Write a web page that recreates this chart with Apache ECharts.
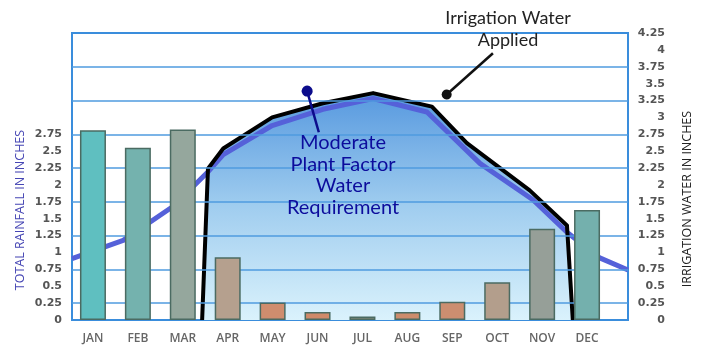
<!DOCTYPE html>
<html>
<head>
<meta charset="utf-8">
<script src="https://cdn.jsdelivr.net/npm/echarts@6/dist/echarts.min.js"></script>
<style>
html, body { margin: 0; padding: 0; background: #ffffff; }
#chart { width: 701px; height: 350px; }
</style>
</head>
<body>
<div id="chart"></div>
<script>
// Monthly rainfall (inches), drawn as bars against the left axis
const months = ['JAN', 'FEB', 'MAR', 'APR', 'MAY', 'JUN', 'JUL', 'AUG', 'SEP', 'OCT', 'NOV', 'DEC'];
const rainfall = [2.81, 2.55, 2.82, 0.93, 0.26, 0.12, 0.05, 0.12, 0.27, 0.56, 1.35, 1.63];
const barColors = ['#5fbfc0', '#74b2ae', '#95a79d', '#b5a08e', '#cf8d6e', '#d08a6a',
                   '#8f8f7a', '#cd8c6c', '#cc8e70', '#b39e8c', '#969f98', '#74b0ad'];

// Moderate plant factor water requirement: month position (JAN = 0) and inches
const requirementPos = [-0.47, 0.67, 1.78, 2.54, 2.90, 3.99, 5.12, 6.24, 7.44, 8.62, 9.80, 10.56, 11.29, 11.92];
const requirementVal = [0.91, 1.18, 1.68, 2.18, 2.45, 2.88, 3.12, 3.28, 3.08, 2.32, 1.78, 1.30, 0.92, 0.74];

// Irrigation water applied: month position and inches
const appliedPos = [2.43, 2.56, 2.90, 3.99, 5.12, 6.24, 7.55, 8.33, 9.73, 10.56, 10.69];
const appliedVal = [0, 2.24, 2.54, 3.00, 3.21, 3.36, 3.16, 2.62, 1.92, 1.40, 0];

// Axis scale shared by both inch axes
const yMin = 0;
const yMax = 4.25;
const yStep = 0.25;
const leftLabelMax = 2.75;
const gridValues = [0.25, 0.75, 1.25, 1.75, 2.25, 2.75, 3.25, 3.75];
const xMin = -0.47;
const xMax = 11.92;

// Callout anchors (month position, inches): dot end first, then free end
const appliedCallout = [[7.88, 3.34], [8.91, 3.95]];
const requirementCallout = [[4.77, 3.39], [5.03, 2.78]];

const pairs = (xs, ys) => xs.map((x, i) => [x, ys[i]]);

const chart = echarts.init(document.getElementById('chart'), null, { renderer: 'canvas' });

const labelFont = { fontFamily: 'DejaVu Sans', fontSize: 11, fontWeight: 'bold', color: '#555555' };

const option = {
  animation: false,
  backgroundColor: '#ffffff',
  grid: [
    { left: 72, right: 73, top: 33, bottom: 30, show: true, borderColor: '#3a8ddc', borderWidth: 2, backgroundColor: '#ffffff', z: 0 },
    { left: 70.5, width: 539, top: 33, bottom: 30, show: false }
  ],
  xAxis: [
    { type: 'value', gridIndex: 0, min: xMin, max: xMax, show: false },
    {
      type: 'category', gridIndex: 1, data: months, boundaryGap: true,
      axisLine: { show: false }, axisTick: { show: false }, splitLine: { show: false },
      axisLabel: { margin: 13, fontFamily: 'Open Sans', fontSize: 12, fontWeight: 600, color: '#666666' }
    }
  ],
  yAxis: [
    {
      type: 'value', gridIndex: 0, position: 'left', min: yMin, max: yMax, interval: yStep,
      axisLine: { show: false }, axisTick: { show: false }, splitLine: { show: false },
      axisLabel: Object.assign({ margin: 10, formatter: v => (v <= leftLabelMax + 1e-9 ? String(v) : '') }, labelFont)
    },
    {
      type: 'value', gridIndex: 0, position: 'right', min: yMin, max: yMax, interval: yStep,
      axisLine: { show: false }, axisTick: { show: false }, splitLine: { show: false },
      axisLabel: Object.assign({ margin: 37, align: 'right', formatter: v => String(v) }, labelFont)
    },
    { type: 'value', gridIndex: 1, min: yMin, max: yMax, show: false }
  ],
  series: [
    {
      // gradient fill beneath the irrigation curve
      name: 'fill', type: 'line', xAxisIndex: 0, yAxisIndex: 1, z: 1,
      data: pairs(appliedPos, appliedVal), symbol: 'none', silent: true,
      lineStyle: { width: 0 },
      areaStyle: {
        opacity: 1,
        color: new echarts.graphic.LinearGradient(0, 0, 0, 1, [
          { offset: 0, color: '#5799df' },
          { offset: 0.5, color: '#a0cdef' },
          { offset: 1, color: '#daf2fc' }
        ])
      }
    },
    {
      // horizontal grid lines
      name: 'grid', type: 'line', xAxisIndex: 0, yAxisIndex: 1, z: 2,
      data: [], symbol: 'none', silent: true,
      markLine: {
        silent: true, symbol: ['none', 'none'], label: { show: false },
        lineStyle: { color: '#4f9bdf', width: 1.5, type: 'solid' },
        data: gridValues.map(v => ({ yAxis: v }))
      }
    },
    {
      name: 'Moderate Plant Factor Water Requirement', type: 'line', xAxisIndex: 0, yAxisIndex: 1, z: 3,
      data: pairs(requirementPos, requirementVal), symbol: 'none',
      lineStyle: { color: '#5561d9', width: 5, join: 'round' }
    },
    {
      name: 'Irrigation Water Applied', type: 'line', xAxisIndex: 0, yAxisIndex: 1, z: 4,
      data: pairs(appliedPos, appliedVal), symbol: 'none',
      lineStyle: { color: '#000000', width: 4, join: 'round' },
      markLine: {
        silent: true, label: { show: false }, animation: false,
        data: [
          [
            { coord: appliedCallout[0], symbol: 'circle', symbolSize: 10, itemStyle: { color: '#111111' }, lineStyle: { color: '#111111', width: 2.5, type: 'solid' } },
            { coord: appliedCallout[1], symbol: 'none' }
          ],
          [
            { coord: requirementCallout[0], symbol: 'circle', symbolSize: 11, itemStyle: { color: '#0c0c8c' }, lineStyle: { color: '#0c0c8c', width: 2.5, type: 'solid' } },
            { coord: requirementCallout[1], symbol: 'none' }
          ]
        ]
      }
    },
    {
      name: 'Total Rainfall', type: 'bar', xAxisIndex: 1, yAxisIndex: 2, z: 5,
      barWidth: 26,
      data: rainfall.map((v, i) => ({ value: v, itemStyle: { color: barColors[i] } })),
      itemStyle: { borderColor: '#4b6b62', borderWidth: 1.5 }
    }
  ],
  graphic: [
    {
      type: 'text', z: 100, x: 508, y: 29,
      style: { text: 'Irrigation Water\nApplied', font: '18px Lato', lineHeight: 22, fill: '#222222', align: 'center', verticalAlign: 'middle' }
    },
    {
      type: 'text', z: 100, x: 343, y: 175,
      style: { text: 'Moderate\nPlant Factor\nWater\nRequirement', font: '20px Lato', lineHeight: 21.7, fill: '#0c0c9c', align: 'center', verticalAlign: 'middle' }
    },
    {
      type: 'text', z: 100, x: 20, y: 210, rotation: Math.PI / 2,
      style: { text: 'TOTAL RAINFALL IN INCHES', font: '12.5px "Open Sans"', fill: '#4646b4', align: 'center', verticalAlign: 'middle' }
    },
    {
      type: 'text', z: 100, x: 687, y: 199, rotation: Math.PI / 2,
      style: { text: 'IRRIGATION WATER IN INCHES', font: '12.5px "Open Sans"', fill: '#222222', align: 'center', verticalAlign: 'middle' }
    }
  ]
};

chart.setOption(option);
</script>
</body>
</html>
